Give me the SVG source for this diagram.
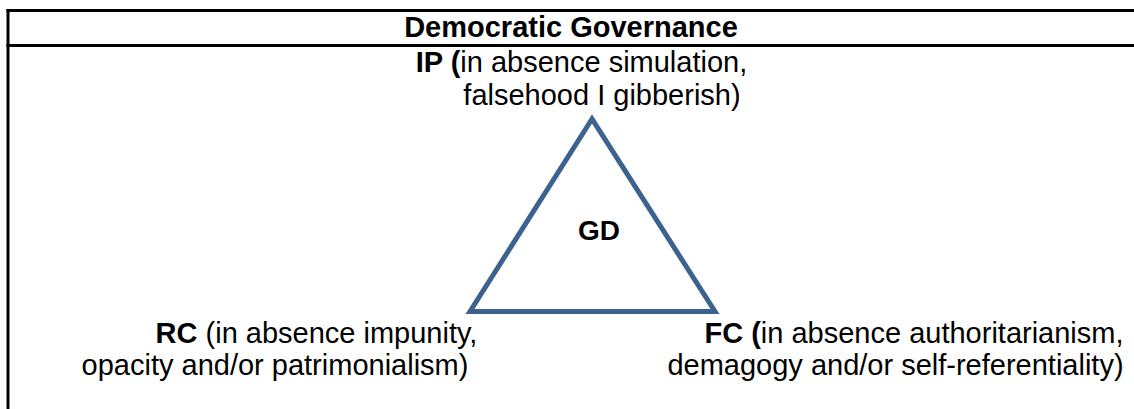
<svg xmlns="http://www.w3.org/2000/svg" width="1134" height="409" viewBox="0 0 1134 409">
<style>
.t{font-family:"Liberation Sans",Arial,sans-serif;font-size:29px;fill:#000;text-anchor:middle}
.b{font-weight:bold}
.g{font-size:28px}
.frame{stroke:#000;stroke-width:3;fill:none}
.tri{stroke:#3D6290;stroke-width:5;fill:none;stroke-linejoin:miter}
</style>
<rect width="1134" height="409" fill="#fff"/>
<g id="frame">
<line class="frame" x1="6.5" y1="10.5" x2="1134" y2="10.5"/>
<line class="frame" x1="6.5" y1="45.5" x2="1134" y2="45.5"/>
<line class="frame" x1="8" y1="9" x2="8" y2="409"/>
<text class="t b" x="571" y="37">Democratic Governance</text>
</g>
<g id="connectors">
<polygon class="tri" points="592,119 470,311.5 715,311.5"/>
</g>
<g id="GD"><text class="t b g" x="599" y="240">GD</text></g>
<g id="IP">
<text class="t" x="581.5" y="72"><tspan class="b">IP (</tspan>in absence simulation,</text>
<text class="t" x="602" y="105">falsehood I gibberish)</text>
</g>
<g id="RC">
<text class="t" x="316.5" y="343"><tspan class="b">RC</tspan> (in absence impunity,</text>
<text class="t" x="275" y="375">opacity and/or patrimonialism)</text>
</g>
<g id="FC">
<text class="t" x="914" y="343"><tspan class="b">FC (</tspan>in absence authoritarianism,</text>
<text class="t" x="895.5" y="375">demagogy and/or self-referentiality)</text>
</g>
</svg>
